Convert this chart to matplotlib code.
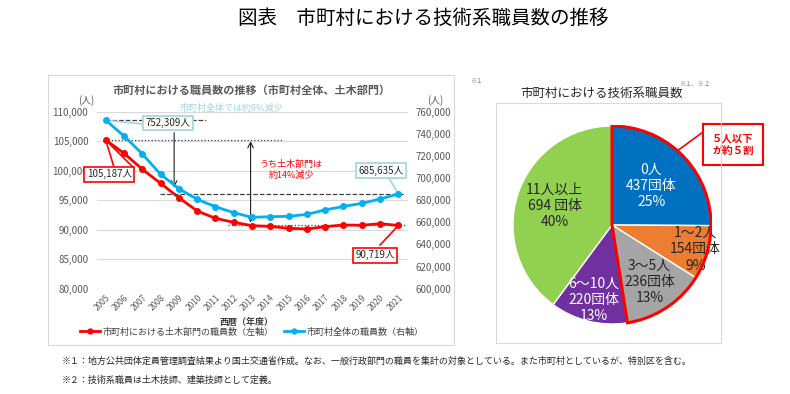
import numpy as np
import matplotlib.pyplot as plt
from matplotlib.patches import Rectangle, Wedge

plt.rcParams['font.family'] = ['Noto Sans CJK JP', 'DejaVu Sans']

# データ（左：職員数の推移）
years = [str(y) for y in range(2005, 2022)]
doboku = [105187, 102950, 100240, 97860, 95420, 93170, 91930, 91250, 90680,
          90560, 90240, 90120, 90510, 90800, 90750, 91020, 90719]
zentai = [752309, 738000, 721800, 703400, 690400, 680800, 674100, 668700, 664500,
          665100, 665400, 667200, 671200, 674400, 677100, 681100, 685635]

# データ（右：技術系職員数）
pie_labels = ['0人', '1～2人', '3～5人', '6～10人', '11人以上']
pie_counts = [437, 154, 236, 220, 694]
pie_count_text = ['437団体', '154団体', '236団体', '220団体', '694 団体']
pie_pct = [25, 9, 13, 13, 40]
pie_colors = ['#0070C0', '#ED7D31', '#A5A5A5', '#7030A0', '#92D050']
pie_text_colors = ['white', '#262626', '#262626', 'white', '#262626']
label_dist = [0.56, 0.88, 0.69, 0.78, 0.61]

W, H = 790, 394
fig = plt.figure(figsize=(W / 100, H / 100), dpi=100)


def fx(px):
    return px / W


def fy(py):
    return 1 - py / H


# パネルの枠
fig.patches.append(Rectangle((fx(48), fy(345)), fx(454) - fx(48), fy(75) - fy(345),
                             transform=fig.transFigure, fill=False, ec='#D9D9D9', lw=0.8))
fig.patches.append(Rectangle((fx(496), fy(343)), fx(721) - fx(496), fy(103) - fy(343),
                             transform=fig.transFigure, fill=False, ec='#D9D9D9', lw=0.8))

fig.text(fx(423), fy(18), '図表　市町村における技術系職員数の推移', ha='center', va='center',
         fontsize=14, color='#000000')

# ---- 折れ線グラフ ----
ax = fig.add_axes([fx(96.6), fy(288.7), fx(407.5) - fx(96.6), fy(111.7) - fy(288.7)])
ax2 = ax.twinx()
x = np.arange(len(years))

ax.plot(x, doboku, color='#FF0000', lw=2, marker='o', ms=4, zorder=5)
ax2.plot(x, zentai, color='#00B0F0', lw=2, marker='o', ms=4, zorder=5)

ax.set_xlim(-0.5, len(years) - 0.5)
ax.set_ylim(80000, 110000)
ax2.set_ylim(600000, 760000)
ax.set_yticks(np.arange(80000, 110001, 5000))
ax2.set_yticks(np.arange(600000, 760001, 20000))
ax.yaxis.set_major_formatter(plt.FuncFormatter(lambda v, p: f'{int(v):,}'))
ax2.yaxis.set_major_formatter(plt.FuncFormatter(lambda v, p: f'{int(v):,}'))
ax.set_xticks(x)
ax.set_xticklabels(years, rotation=45, ha='right', va='top', rotation_mode='anchor')
ax.grid(axis='y', color='#D9D9D9', lw=0.8)
ax.set_axisbelow(True)
for a in (ax, ax2):
    for s in a.spines.values():
        s.set_visible(False)
    a.tick_params(length=0, labelsize=7, colors='#595959', pad=6)
ax.tick_params(axis='x', labelsize=6, pad=3)

fig.text(fx(252), fy(90), '市町村における職員数の推移（市町村全体、土木部門）', ha='center', va='center',
         fontsize=8, color='#595959', fontweight='bold')
fig.text(fx(86), fy(101), '(人)', ha='center', va='center', fontsize=7, color='#595959')
fig.text(fx(435), fy(101), '(人)', ha='center', va='center', fontsize=7, color='#595959')
fig.text(fx(247), fy(322), '西暦（年度）', ha='center', va='center', fontsize=6.5,
         color='#404040', fontweight='bold')

# 補助線・矢印
ax2.hlines(zentai[0], 0.35, 5.5, colors='#404040', linestyles='--', lw=0.9)
ax2.hlines(zentai[-1], 2.98, 16.35, colors='#404040', linestyles='--', lw=0.9)
ax.hlines(doboku[0], 0.13, 9.7, colors='#404040', linestyles=':', lw=0.9)
ax.hlines(doboku[-1], 6.7, 16.35, colors='#404040', linestyles=':', lw=0.9)
ax2.annotate('', xy=(3.74, 689000), xytext=(3.74, 743500),
             arrowprops=dict(arrowstyle='->', color='#202020', lw=0.8))
ax.annotate('', xy=(7.92, doboku[-1]), xytext=(7.92, doboku[0] + 300),
            arrowprops=dict(arrowstyle='<->', color='#202020', lw=0.8))

ax2.text(6.85, 763300, '市町村全体では約9%減少', ha='center', va='center', fontsize=6.5,
         color='#9ED6DC', clip_on=False)
ax.text(10.13, 100100, 'うち土木部門は\n約14%減少', ha='center', va='center', fontsize=6.5,
        color='#FF0000', linespacing=1.3)

# 吹き出し
ax2.plot([0, 1.96], [zentai[0], 749000], color='#9ED6DC', lw=1.2)
ax2.text(3.4, 749800, '752,309人', ha='center', va='center', fontsize=7, color='#262626',
         bbox=dict(boxstyle='square,pad=0.25', fc='white', ec='#9ED6DC', lw=1.2), zorder=6)
ax.plot([0, 0.45], [doboku[0], 100600], color='#FF0000', lw=1.2)
ax.plot([0, 1.49], [doboku[0], 100600], color='#FF0000', lw=1.2)
ax.text(0.19, 99400, '105,187人', ha='center', va='center', fontsize=7, color='#262626',
        bbox=dict(boxstyle='square,pad=0.25', fc='white', ec='#FF0000', lw=1.2), zorder=6)
ax2.plot([15.4, 16], [702500, zentai[-1]], color='#9ED6DC', lw=1.2)
ax2.text(15.05, 706500, '685,635人', ha='center', va='center', fontsize=7, color='#262626',
         bbox=dict(boxstyle='square,pad=0.25', fc='white', ec='#9ED6DC', lw=1.2), zorder=6)
ax.plot([15.0, 16], [87400, doboku[-1]], color='#FF0000', lw=1.2)
ax.text(14.73, 85700, '90,719人', ha='center', va='center', fontsize=7, color='#262626',
        bbox=dict(boxstyle='square,pad=0.25', fc='white', ec='#FF0000', lw=1.2), zorder=6)

# 凡例
h1, = ax.plot([], [], color='#FF0000', lw=2, marker='o', ms=3.5)
h2, = ax.plot([], [], color='#00B0F0', lw=2, marker='o', ms=3.5)
fig.legend([h1, h2], ['市町村における土木部門の職員数（左軸）', '市町村全体の職員数（右軸）'],
           loc='center', bbox_to_anchor=(fx(252), fy(332)), ncol=2, frameon=False,
           fontsize=6.5, handlelength=2.2, handletextpad=0.3, columnspacing=1.2,
           labelcolor='#404040')

# ---- 円グラフ ----
pax = fig.add_axes([fx(512), fy(325), fx(712) - fx(512), fy(125) - fy(325)])
wedges, _ = pax.pie(pie_counts, colors=pie_colors, startangle=90, counterclock=False,
                    radius=1, wedgeprops=dict(edgecolor='white', lw=1))
pax.set_xlim(-1.01, 1.01)
pax.set_ylim(-1.01, 1.01)
pax.set_aspect('equal')

for w, lab, cnt, pct, tc, d in zip(wedges, pie_labels, pie_count_text, pie_pct,
                                   pie_text_colors, label_dist):
    mid = np.deg2rad((w.theta1 + w.theta2) / 2)
    pax.text(d * np.cos(mid), d * np.sin(mid), f'{lab}\n{cnt}\n{pct}%', ha='center',
             va='center', fontsize=10, color=tc, linespacing=1.2)

# 5人以下の枠
t1 = min(w.theta1 for w in wedges[:3])
pax.add_patch(Wedge((0, 0), 1, t1, 90, fill=False, ec='#FF0000', lw=2.2, zorder=5))
pax.plot([0.657, 0.92], [0.747, 0.94], color='#FF0000', lw=1.2, clip_on=False)
pax.text(1.22, 0.81, '５人以下\nが約５割', ha='center', va='center', fontsize=7.5,
         color='#FF0000', fontweight='bold', linespacing=1.3, clip_on=False,
         bbox=dict(boxstyle='square,pad=0.9', fc='white', ec='#FF0000', lw=1.5))

fig.text(fx(602), fy(93), '市町村における技術系職員数', ha='center', va='center',
         fontsize=9, color='#262626')
fig.text(fx(695), fy(84), '※１、※２', ha='center', va='center', fontsize=4.5, color='#7F7F7F')
fig.text(fx(476), fy(81), '※１', ha='center', va='center', fontsize=4.5, color='#7F7F7F')

# 注記
fig.text(fx(62), fy(361), '※１：地方公共団体定員管理調査結果より国土交通省作成。なお、一般行政部門の職員を集計の対象としている。'
         'また市町村としているが、特別区を含む。', ha='left', va='center', fontsize=6.5, color='#262626')
fig.text(fx(62), fy(380), '※２：技術系職員は土木技師、建築技師として定義。', ha='left', va='center',
         fontsize=6.5, color='#262626')

fig.savefig('out.png', dpi=100)
